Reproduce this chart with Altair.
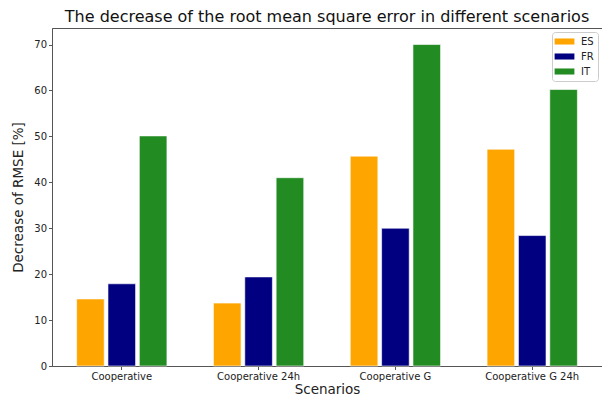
import altair as alt
import pandas as pd

scenarios = ["Cooperative", "Cooperative 24h", "Cooperative G", "Cooperative G 24h"]
countries = ["ES", "FR", "IT"]
es_values = [14.6, 13.7, 45.7, 47.2]
fr_values = [17.9, 19.4, 30.0, 28.4]
it_values = [50.1, 41.0, 70.0, 60.2]
colors = ["#FFA500", "#000080", "#228B22"]

rows = []
for i, s in enumerate(scenarios):
    for c, vals in zip(countries, [es_values, fr_values, it_values]):
        rows.append({"Scenario": s, "Country": c, "Value": vals[i]})
df = pd.DataFrame(rows)

font = "DejaVu Sans"

chart = alt.Chart(df).mark_bar(stroke="white", strokeWidth=0.6).encode(
    x=alt.X("Scenario:N", sort=scenarios,
            scale=alt.Scale(paddingInner=0.34, paddingOuter=0.18),
            axis=alt.Axis(title="Scenarios", labelAngle=0, bandPosition=0.5,
                          labelFontSize=10, titleFontSize=13.5, tickSize=3.5,
                          labelPadding=2, titlePadding=1, labelColor="#222",
                          titleColor="#222", domainColor="#555", tickColor="#555",
                          titleFontWeight="normal", labelFont=font, titleFont=font)),
    xOffset=alt.XOffset("Country:N", sort=countries,
                        scale=alt.Scale(paddingInner=0.12, paddingOuter=0)),
    y=alt.Y("Value:Q", scale=alt.Scale(domain=[0, 73.6], nice=False),
            axis=alt.Axis(title="Decrease of RMSE [%]", values=[0, 10, 20, 30, 40, 50, 60, 70],
                          grid=False, labelFontSize=10, titleFontSize=13.5, tickSize=3.5,
                          labelPadding=2, titlePadding=8, labelColor="#222",
                          titleColor="#222", domainColor="#555", tickColor="#555",
                          titleFontWeight="normal", labelFont=font, titleFont=font)),
    color=alt.Color("Country:N", sort=countries,
                    scale=alt.Scale(domain=countries, range=colors),
                    legend=alt.Legend(title=None, orient="none", legendX=500, legendY=4,
                                      symbolType="M-1.8,-0.55H1.8V0.55H-1.8Z",
                                      symbolSize=121, symbolOffset=3,
                                      labelOffset=11, labelFontSize=10, labelFont=font,
                                      labelColor="#222", rowPadding=4, padding=4,
                                      strokeColor="#ccc", cornerRadius=3, fillColor="white",
                                      symbolStrokeWidth=0)),
).properties(
    width=550, height=338,
    title=alt.TitleParams("The decrease of the root mean square error in different scenarios",
                          fontSize=16, font=font, fontWeight="normal", color="#111",
                          anchor="middle", offset=3),
    padding={"left": 44, "top": 20, "right": 0, "bottom": 32},
    autosize=alt.AutoSizeParams(type="none"),
).configure_view(stroke="#555", strokeWidth=1)

chart.save("out.html", embed_options={"renderer": "svg", "actions": False})
